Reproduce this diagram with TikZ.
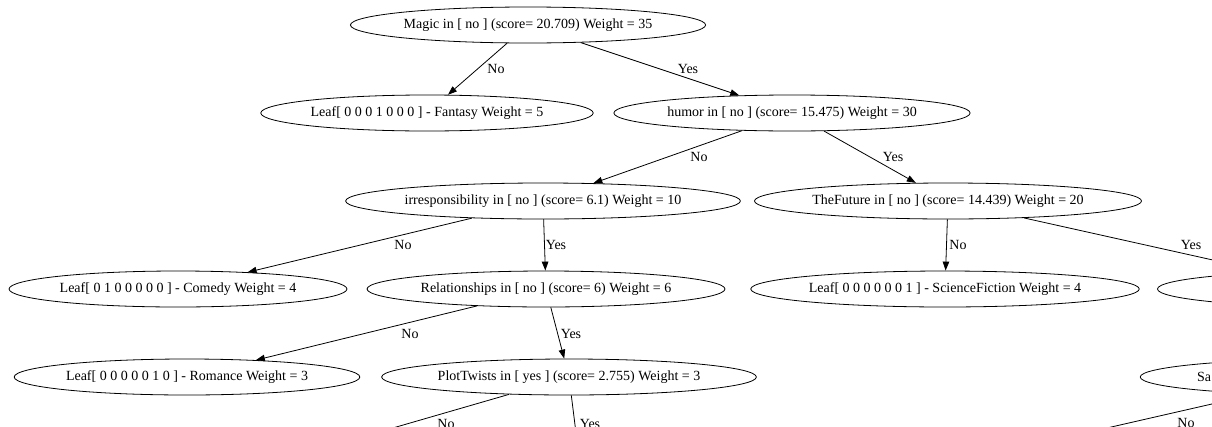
\documentclass[tikz,border=0pt]{standalone}
\usepackage{fontspec}
\setmainfont{Liberation Serif}
\usetikzlibrary{arrows.meta,shapes.geometric}
\tikzset{
  split/.style={ellipse,draw,line width=0.8pt,minimum height=36pt,inner xsep=1.2pt,inner ysep=1pt},
  leaf/.style={split},
  elabel/.style={inner sep=0pt}
}

\begin{document}
\begin{tikzpicture}[x=1pt,y=-1pt,>={Triangle[length=9pt,width=6.5pt]},line width=0.8pt,font=\fontsize{14}{16}\selectfont]
  \useasboundingbox (0,0) rectangle (1212,426);
  \clip (0,0) rectangle (1212,426);
  \node[split] (magic) at (528,25) {Magic in [ no ] (score= 20.709) Weight = 35};
  \node[leaf] (fantasy) at (427,113) {Leaf[ 0 0 0 1 0 0 0 ] - Fantasy Weight = 5};
  \node[split] (humor) at (792,113) {humor in [ no ] (score= 15.475) Weight = 30};
  \node[split] (irresp) at (543,201) {irresponsibility in [ no ] (score= 6.1) Weight = 10};
  \node[split] (future) at (948,201) {TheFuture in [ no ] (score= 14.439) Weight = 20};
  \node[leaf] (comedy) at (178,289) {Leaf[ 0 1 0 0 0 0 0 ] - Comedy Weight = 4};
  \node[split] (relation) at (546,289) {Relationships in [ no ] (score= 6) Weight = 6};
  \node[leaf] (scifi) at (945,289) {Leaf[ 0 0 0 0 0 0 1 ] - ScienceFiction Weight = 4};
  \node[split,text width=260pt] (futureyes) at (1343,289) {};
  \node[leaf] (romance) at (187,377) {Leaf[ 0 0 0 0 0 1 0 ] - Romance Weight = 3};
  \node[split] (plot) at (569,377) {PlotTwists in [ yes ] (score= 2.755) Weight = 3};
  \node[split,text width=266pt,align=left] (sanode) at (1330,377) {Sa};
  % children below the visible part
  \coordinate (plotno) at (265,465);
  \coordinate (plotyes) at (580,465);
  \coordinate (sano) at (945,465);

  \draw[->] (magic) -- (fantasy) node[elabel] at (496,69) {No};
  \draw[->] (magic) -- (humor) node[elabel] at (688,69) {Yes};
  \draw[->] (humor) -- (irresp) node[elabel] at (699,157) {No};
  \draw[->] (humor) -- (future) node[elabel] at (893,157) {Yes};
  \draw[->] (irresp) -- (comedy) node[elabel] at (403,245) {No};
  \draw[->] (irresp) -- (relation) node[elabel] at (556,245) {Yes};
  \draw[->] (future) -- (scifi) node[elabel] at (958,245) {No};
  \draw[->] (future) -- (futureyes) node[elabel] at (1191,245) {Yes};
  \draw[->] (relation) -- (romance) node[elabel] at (410,334) {No};
  \draw[->] (relation) -- (plot) node[elabel] at (571,334) {Yes};
  \draw[->] (plot) -- (plotno) node[elabel] at (446,424) {No};
  \draw[->] (plot) -- (plotyes) node[elabel] at (590,424) {Yes};
  \draw[->] (sanode) -- (sano) node[elabel] at (1186,423) {No};
\end{tikzpicture}
\end{document}
